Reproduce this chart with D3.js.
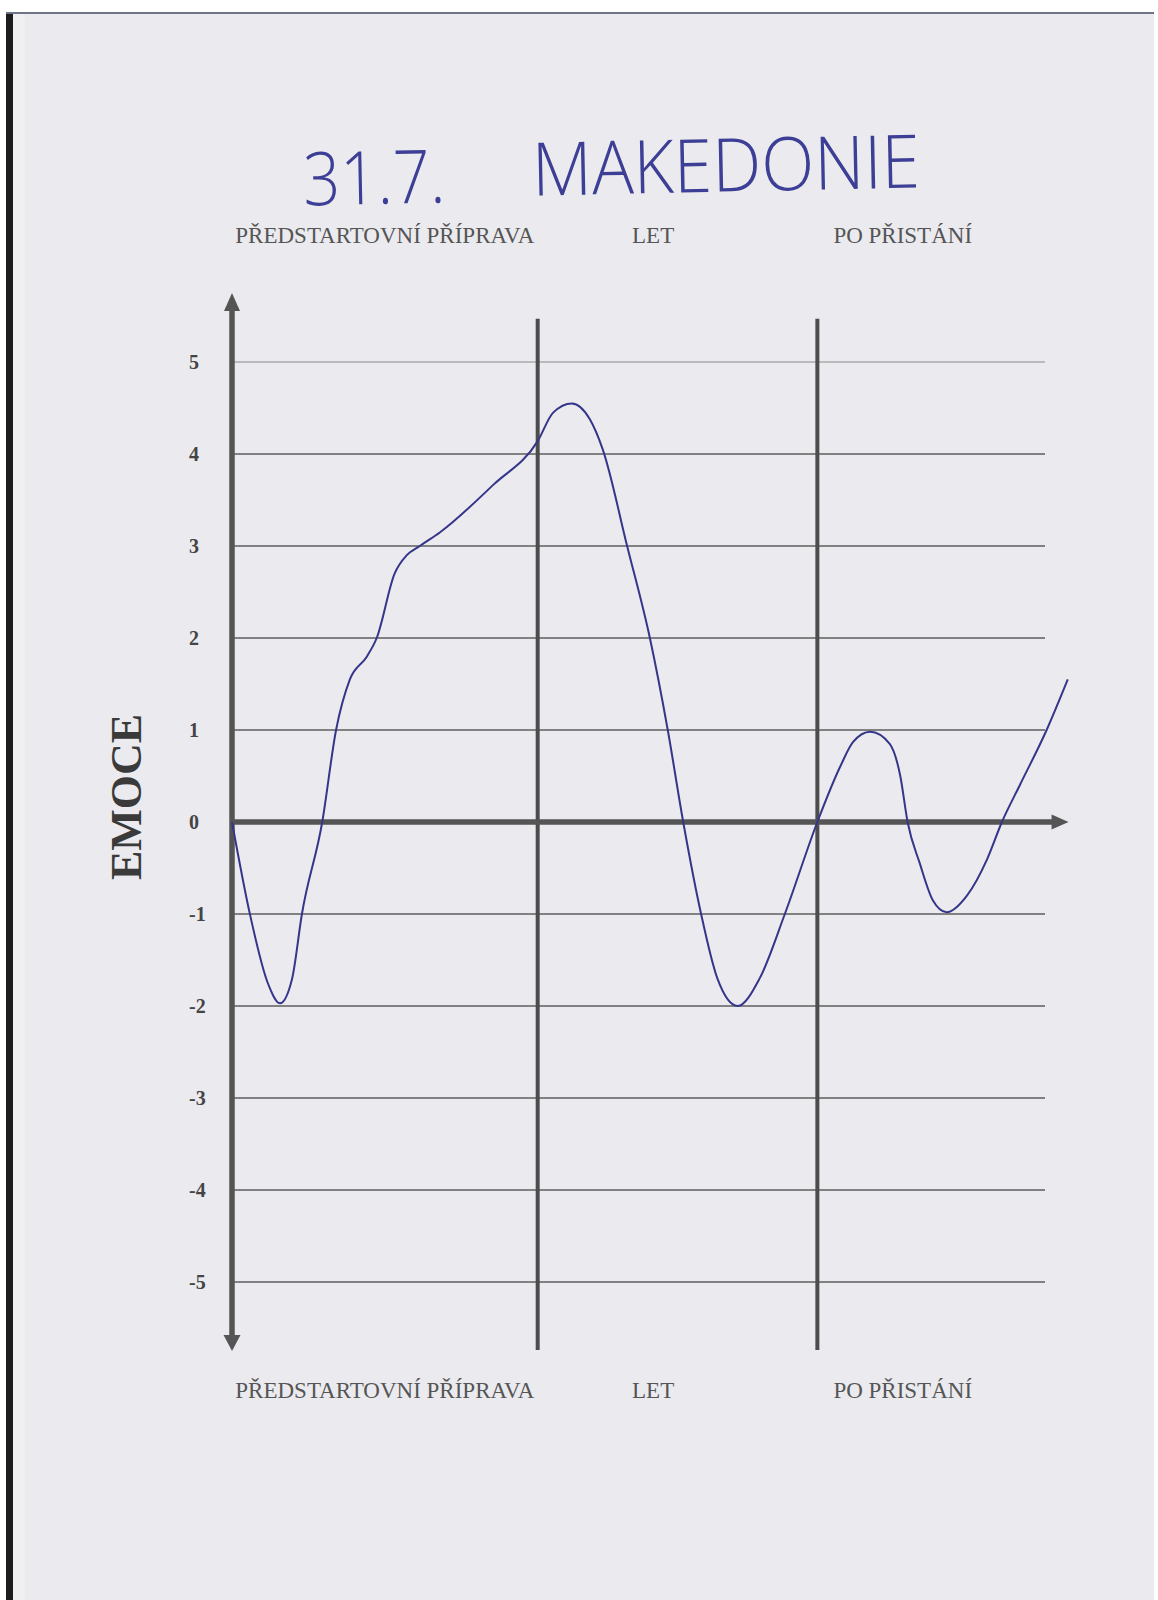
<!DOCTYPE html>
<html>
<head>
<meta charset="utf-8">
<script src="https://cdn.jsdelivr.net/npm/d3@7/dist/d3.min.js"></script>
<style>
    body { margin: 0; background: #ffffff; }
    svg { display: block; }
    .gridLine { stroke: #5e5e5e; stroke-width: 1.6; }
    .gridTop { stroke: #8a8a8a; stroke-width: 1.1; }
    .axisLine { stroke: #555555; stroke-width: 5.5; }
    .divider { stroke: #4c4c4c; stroke-width: 4; }
    .arrow { fill: #555555; }
    .tickLabel { font-family: "Liberation Serif", "Times New Roman", serif; font-weight: bold; font-size: 20px; fill: #444; }
    .phaseLabel { font-family: "Liberation Serif", "Times New Roman", serif; font-size: 23px; fill: #555; }
    .yTitle { font-family: "Liberation Serif", "Times New Roman", serif; font-weight: bold; font-size: 44px; fill: #3a3a3a; }
    .handTitle { font-family: "Open Sans", "DejaVu Sans", sans-serif; font-weight: 300; font-size: 74px; fill: #3c3f95; }
    .emotionLine { fill: none; stroke: #35358a; stroke-width: 2; }
</style>
</head>
<body>
<div class="svg_container"></div>
<script>
// chart content
var titleDate = "31.7.";
var titleText = "MAKEDONIE";
var yLabel = "EMOCE";
var phaseLabels = ["PŘEDSTARTOVNÍ PŘÍPRAVA", "LET", "PO PŘISTÁNÍ"];
var phaseLabelAt = [18.8, 51.8, 82.5];     // where the form prints each header on the timeline
var phaseBreaks = [37.6, 72.0];            // vertical lines between the phases
var yTicks = [5, 4, 3, 2, 1, 0, -1, -2, -3, -4, -5];

// the hand-drawn curve (timeline in % of the axis, emotion -5..5)
var timeSteps = [0, 2.2, 4.4, 5.9, 7.4, 8.6, 11.1, 12.8, 14.5, 16.6, 17.8, 20.0, 21.5, 23.1, 25.6,
    32.2, 37.6, 39.5, 41.8, 44.0, 45.6, 48.6, 51.4, 53.6, 55.5, 57.7, 59.7, 62.2, 64.9, 68.0,
    72.0, 74.8, 76.4, 78.5, 80.9, 82.2, 83.1, 84.6, 86.2, 87.9, 90.4, 92.9, 94.7, 96.9, 100.2, 102.8];
var emotion = [0, -1.0, -1.75, -1.97, -1.7, -1.0, 0, 1.0, 1.55, 1.8, 2.0, 2.7, 2.9, 3.0, 3.15,
    3.67, 4.14, 4.45, 4.55, 4.38, 4.05, 3.0, 2.0, 1.0, 0, -1.0, -1.7, -2.0, -1.7, -1.0,
    0, 0.6, 0.87, 0.98, 0.85, 0.5, 0, -0.45, -0.85, -0.98, -0.8, -0.4, 0, 0.4, 1.0, 1.55];

const WIDTH = 1158;
const HEIGHT = 1600;

var translate = function (x, y) {
    return "translate(" + x + "," + y + ")";
};

var _xScale = d3.scaleLinear()
    .domain([0, 100])
    .range([232, 1045]);

var _yScale = d3.scaleLinear()
    .domain([-5, 5])
    .range([1282, 362]);

// how far the printed axes run past the grid, in data units
var AXIS_TOP = 5.75, AXIS_BOTTOM = -5.75, AXIS_END = 102.9;
var DIVIDER_TOP = 5.47, DIVIDER_BOTTOM = -5.74;

var drawPaper = function (svg) {
    svg.append('rect').attr('x', 0).attr('y', 0).attr('width', WIDTH).attr('height', HEIGHT).attr('fill', '#ffffff');
    svg.append('rect').attr('x', 6).attr('y', 12).attr('width', WIDTH - 10).attr('height', HEIGHT - 12).attr('fill', '#ebebef');
    svg.append('rect').attr('x', 6).attr('y', 12).attr('width', 7).attr('height', HEIGHT - 12).attr('fill', '#1c1c1e');
    svg.append('rect').attr('x', 6).attr('y', 12).attr('width', WIDTH - 10).attr('height', 2).attr('fill', '#6d7585');
    svg.append('rect').attr('x', 13).attr('y', 14).attr('width', 12).attr('height', HEIGHT - 14).attr('fill', '#f0f0f2');
};

var drawTitle = function (svg) {
    var g = svg.append('g').attr('transform', 'rotate(-1.2, 610, 170)');
    g.append('text').attr('class', 'handTitle')
        .attr('x', 303).attr('y', 199)
        .attr('textLength', 142).attr('lengthAdjust', 'spacingAndGlyphs')
        .text(titleDate);
    g.append('text').attr('class', 'handTitle')
        .attr('x', 532).attr('y', 194)
        .attr('textLength', 388).attr('lengthAdjust', 'spacingAndGlyphs')
        .text(titleText);
};

var drawPhaseLabels = function (svg, baseline) {
    svg.append('g').selectAll('text').data(phaseLabels)
        .enter().append('text')
        .attr('class', 'phaseLabel')
        .attr('text-anchor', 'middle')
        .attr('x', function (d, i) { return _xScale(phaseLabelAt[i]); })
        .attr('y', baseline)
        .text(function (d) { return d; });
};

var drawGrid = function (svg) {
    var g = svg.append('g');
    g.selectAll('line').data(yTicks.filter(function (d) { return d !== 0; }))
        .enter().append('line')
        .attr('class', function (d) { return d === 5 ? 'gridTop' : 'gridLine'; })
        .attr('x1', _xScale(0)).attr('x2', _xScale(100))
        .attr('y1', function (d) { return _yScale(d); })
        .attr('y2', function (d) { return _yScale(d); });

    g.selectAll('text').data(yTicks)
        .enter().append('text')
        .attr('class', 'tickLabel')
        .attr('x', _xScale(0) - 43)
        .attr('y', function (d) { return _yScale(d); })
        .attr('dy', '0.35em')
        .text(function (d) { return d; });
};

var drawDividers = function (svg) {
    svg.append('g').selectAll('line').data(phaseBreaks)
        .enter().append('line')
        .attr('class', 'divider')
        .attr('x1', function (d) { return _xScale(d); })
        .attr('x2', function (d) { return _xScale(d); })
        .attr('y1', _yScale(DIVIDER_TOP))
        .attr('y2', _yScale(DIVIDER_BOTTOM));
};

var drawAxes = function (svg) {
    var ax = _xScale(0), ay = _yScale(0);
    var top = _yScale(AXIS_TOP), bottom = _yScale(AXIS_BOTTOM), end = _xScale(AXIS_END);
    var g = svg.append('g');

    g.append('line').attr('class', 'axisLine')
        .attr('x1', ax).attr('x2', ax).attr('y1', top + 14).attr('y2', bottom - 12);
    g.append('line').attr('class', 'axisLine')
        .attr('x1', ax).attr('x2', end - 14).attr('y1', ay).attr('y2', ay);

    var tri = function (pts) {
        return 'M' + pts.map(function (p) { return p.join(','); }).join('L') + 'Z';
    };
    g.append('path').attr('class', 'arrow').attr('d', tri([[ax, top], [ax - 8, top + 18], [ax + 8, top + 18]]));
    g.append('path').attr('class', 'arrow').attr('d', tri([[ax, bottom], [ax - 8.5, bottom - 16], [ax + 8.5, bottom - 16]]));
    g.append('path').attr('class', 'arrow').attr('d', tri([[end, ay], [end - 17, ay - 7.5], [end - 17, ay + 7.5]]));
};

var line = d3.line()
    .x(function (d) { return _xScale(d.t); })
    .y(function (d) { return _yScale(d.v); })
    .curve(d3.curveMonotoneX);

var drawCurve = function (svg) {
    var data = timeSteps.map(function (t, i) { return {t: t, v: emotion[i]}; });
    svg.append('path')
        .attr('class', 'emotionLine')
        .attr('d', line(data));
};

var drawYTitle = function (svg) {
    svg.append('text')
        .attr('class', 'yTitle')
        .attr('text-anchor', 'middle')
        .attr('transform', translate(141, 797) + ' rotate(-90)')
        .text(yLabel);
};

var loadDefault = function () {
    var svg = d3.select('.svg_container').append('svg')
        .attr('width', WIDTH)
        .attr('height', HEIGHT);
    drawPaper(svg);
    drawTitle(svg);
    drawPhaseLabels(svg, 243);
    drawGrid(svg);
    drawDividers(svg);
    drawAxes(svg);
    drawCurve(svg);
    drawPhaseLabels(svg, 1398);
    drawYTitle(svg);
};

window.onload = loadDefault;
</script>
</body>
</html>
